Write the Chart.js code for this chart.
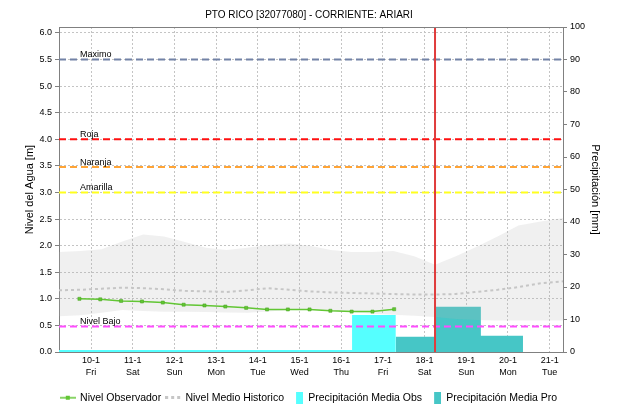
<!DOCTYPE html>
<html>
<head>
<meta charset="utf-8">
<title>PTO RICO [32077080] - CORRIENTE: ARIARI</title>
<script src="https://cdn.jsdelivr.net/npm/chart.js@4.4.1/dist/chart.umd.min.js"></script>
<style>
  html, body { margin: 0; padding: 0; background: #fff; }
  canvas { display: block; }
</style>
</head>
<body>
<canvas id="nivel-chart" width="618" height="407"></canvas>
<script>
// eje x en dias de enero (10 = 10-1 00:00)
const tickDays = [10, 11, 12, 13, 14, 15, 16, 17, 18, 19, 20, 21];
const tickDates = ['10-1', '11-1', '12-1', '13-1', '14-1', '15-1', '16-1', '17-1', '18-1', '19-1', '20-1', '21-1'];
const tickWeekdays = ['Fri', 'Sat', 'Sun', 'Mon', 'Tue', 'Wed', 'Thu', 'Fri', 'Sat', 'Sun', 'Mon', 'Tue'];
const xRange = [9.23, 21.32];
const levelRange = [0, 6.111];
const rainRange = [0, 100];
const nowDay = 18.25;

// Nivel Observador
const obsTimes = [9.72, 10.22, 10.72, 11.22, 11.72, 12.22, 12.72, 13.22, 13.72, 14.22, 14.72, 15.24, 15.74, 16.25, 16.75, 17.27];
const obsLevel = [1.00, 0.99, 0.96, 0.95, 0.93, 0.89, 0.875, 0.855, 0.83, 0.80, 0.80, 0.80, 0.775, 0.76, 0.76, 0.805];

// historico: media y rango
const histTimes = [9.23, 9.75, 10.25, 10.75, 11.25, 11.75, 12.25, 12.75, 13.25, 13.75, 14.25, 14.75, 15.25, 15.75, 16.25, 16.75, 17.25, 17.75, 18.25, 18.75, 19.25, 19.75, 20.25, 20.75, 21.32];
const histMean = [1.16, 1.17, 1.19, 1.21, 1.20, 1.18, 1.15, 1.14, 1.13, 1.16, 1.20, 1.17, 1.14, 1.12, 1.11, 1.10, 1.09, 1.08, 1.08, 1.09, 1.13, 1.17, 1.22, 1.29, 1.33];
const histUpper = [1.88, 1.90, 1.93, 2.08, 2.21, 2.17, 2.07, 1.96, 1.92, 1.96, 2.01, 2.04, 2.00, 1.92, 1.88, 1.88, 1.90, 1.80, 1.64, 1.80, 1.98, 2.17, 2.38, 2.45, 2.52];
const histLower = [0.67, 0.69, 0.74, 0.79, 0.77, 0.755, 0.755, 0.75, 0.745, 0.74, 0.76, 0.79, 0.80, 0.78, 0.75, 0.72, 0.70, 0.68, 0.66, 0.62, 0.60, 0.59, 0.59, 0.59, 0.59];

// precipitacion (inicio de cada intervalo, el ultimo cierra el intervalo)
const rainObsTimes = [9.23, 16.26, 17.31];
const rainObs = [0.6, 11.4, 0];
const rainProTimes = [17.31, 18.26, 19.35, 20.36];
const rainPro = [4.7, 13.9, 5.0, 0];

// umbrales
const thresholdNames = ['Maximo', 'Roja', 'Naranja', 'Amarilla', 'Nivel Bajo'];
const thresholdLevels = [5.5, 4.0, 3.48, 3.0, 0.48];
const thresholdColors = ['#7282a6', '#ff1010', '#ffa436', '#ffff1e', '#ff4cff'];

const green = '#62c634';
const greenDark = '#46a020';
const histGrey = '#c6c6c6';
const cyan = '#55ffff';
const teal = '#46c6c6';

Chart.defaults.font.family = '"Liberation Sans", Arial, sans-serif';
Chart.defaults.color = '#000';

const pts = (xs, ys) => xs.map((x, i) => ({ x: x, y: ys[i] }));

function makeIcon(w, h, draw) {
    const c = document.createElement('canvas');
    c.width = w;
    c.height = h;
    draw(c.getContext('2d'));
    return c;
}

const legendIcons = [
    makeIcon(16, 6, g => {
        g.strokeStyle = green; g.lineWidth = 1.5;
        g.beginPath(); g.moveTo(0, 3); g.lineTo(16, 3); g.stroke();
        g.fillStyle = green; g.fillRect(6, 1, 4, 4);
    }),
    makeIcon(16, 3, g => {
        g.fillStyle = histGrey;
        g.fillRect(0, 0, 3, 3); g.fillRect(6, 0, 3, 3); g.fillRect(12, 0, 3, 3);
    }),
    makeIcon(14, 12, g => { g.fillStyle = cyan; g.fillRect(7, 0, 7, 12); }),
    makeIcon(14, 12, g => { g.fillStyle = teal; g.fillRect(7, 0, 7, 12); })
];

const thresholdSets = thresholdNames.map((name, i) => ({
    label: name,
    data: pts(xRange, [thresholdLevels[i], thresholdLevels[i]]),
    borderColor: thresholdColors[i],
    borderWidth: 2,
    borderDash: [7, 4],
    pointRadius: 0,
    fill: false,
    yAxisID: 'y',
    order: 1
}));

const datasets = [
    {
        label: 'Nivel Observador',
        data: pts(obsTimes, obsLevel),
        borderColor: green,
        borderWidth: 1.5,
        pointStyle: 'rect',
        pointRadius: 2.2,
        pointBackgroundColor: green,
        pointBorderColor: greenDark,
        pointBorderWidth: 0.5,
        fill: false,
        yAxisID: 'y',
        order: 2
    },
    {
        label: 'Nivel Medio Historico',
        data: pts(histTimes, histMean),
        borderColor: histGrey,
        borderWidth: 2,
        borderDash: [3, 3],
        pointRadius: 0,
        fill: false,
        yAxisID: 'y',
        order: 3
    },
    {
        label: 'Precipitación Media Obs',
        data: pts(rainObsTimes, rainObs),
        stepped: 'before',
        borderWidth: 0,
        borderColor: 'rgba(0,0,0,0)',
        backgroundColor: cyan,
        pointRadius: 0,
        fill: 'origin',
        yAxisID: 'y1',
        order: 6
    },
    {
        label: 'Precipitación Media Pro',
        data: pts(rainProTimes, rainPro),
        stepped: 'before',
        borderWidth: 0,
        borderColor: 'rgba(0,0,0,0)',
        backgroundColor: teal,
        pointRadius: 0,
        fill: 'origin',
        yAxisID: 'y1',
        order: 7
    },
    {
        label: 'Rango Historico',
        data: pts(histTimes, histUpper),
        borderWidth: 0,
        borderColor: 'rgba(0,0,0,0)',
        backgroundColor: 'rgba(180,180,180,0.2)',
        pointRadius: 0,
        fill: '+1',
        yAxisID: 'y',
        order: 4
    },
    {
        label: 'Rango Historico min',
        data: pts(histTimes, histLower),
        borderWidth: 0,
        borderColor: 'rgba(0,0,0,0)',
        pointRadius: 0,
        fill: false,
        yAxisID: 'y',
        order: 5
    },
    {
        label: 'Ahora',
        data: pts([nowDay, nowDay], levelRange),
        borderColor: '#e03c3c',
        borderWidth: 2,
        pointRadius: 0,
        fill: false,
        yAxisID: 'y',
        order: 0
    },
    ...thresholdSets
];

const legendOrder = [0, 1, 2, 3];

const umbralesPlugin = {
    id: 'umbrales',
    afterDatasetsDraw(chart) {
        const { ctx, chartArea, scales } = chart;
        ctx.save();
        ctx.strokeStyle = '#808080';
        ctx.lineWidth = 1;
        ctx.beginPath();
        ctx.moveTo(chartArea.left, chartArea.top + 0.5);
        ctx.lineTo(chartArea.right, chartArea.top + 0.5);
        ctx.stroke();
        ctx.font = '9px "Liberation Sans", Arial, sans-serif';
        ctx.fillStyle = '#000';
        ctx.textBaseline = 'alphabetic';
        thresholdNames.forEach((name, i) => {
            const y = scales.y.getPixelForValue(thresholdLevels[i]);
            ctx.fillText(name, chartArea.left + 21, y - 2);
        });
        ctx.restore();
    }
};

new Chart(document.getElementById('nivel-chart'), {
    type: 'line',
    data: { datasets: datasets },
    options: {
        responsive: false,
        animation: false,
        events: [],
        layout: { padding: { left: 0, right: 0, top: 0, bottom: -6 } },
        plugins: {
            title: {
                display: true,
                text: 'PTO RICO [32077080] - CORRIENTE: ARIARI',
                font: { size: 10, weight: 'normal', lineHeight: 1.2 },
                color: '#000',
                padding: { top: 9, bottom: 6 }
            },
            legend: {
                position: 'bottom',
                labels: {
                    usePointStyle: true,
                    pointStyleWidth: 14,
                    padding: 5,
                    color: '#000',
                    font: { size: 10.5 },
                    generateLabels: chart => legendOrder.map((idx, k) => ({
                        text: chart.data.datasets[idx].label,
                        pointStyle: legendIcons[k],
                        fillStyle: 'rgba(0,0,0,0)',
                        strokeStyle: 'rgba(0,0,0,0)',
                        lineWidth: 0,
                        hidden: false,
                        datasetIndex: idx
                    }))
                }
            },
            tooltip: { enabled: false }
        },
        scales: {
            x: {
                type: 'linear',
                min: xRange[0],
                max: xRange[1],
                afterFit(scale) { scale.height = 35.5; },
                ticks: {
                    stepSize: 1,
                    includeBounds: false,
                    autoSkip: false,
                    maxRotation: 0,
                    padding: 3,
                    color: '#000',
                    font: { size: 9, lineHeight: 1.3 },
                    callback(value) {
                        const i = tickDays.indexOf(Math.round(value));
                        return i < 0 ? '' : [tickDates[i], tickWeekdays[i]];
                    }
                },
                grid: { color: '#c4c4c4', drawTicks: false },
                border: { color: '#808080', dash: [2, 2] }
            },
            y: {
                position: 'left',
                min: levelRange[0],
                max: levelRange[1],
                afterFit(scale) { scale.width = 59; },
                ticks: {
                    stepSize: 0.5,
                    includeBounds: false,
                    padding: 3,
                    color: '#000',
                    font: { size: 9 },
                    callback: v => v.toFixed(1)
                },
                grid: { color: '#c4c4c4', tickLength: 4, tickColor: '#808080', tickBorderDash: [] },
                border: { color: '#808080', dash: [2, 2] },
                title: {
                    display: true,
                    text: 'Nivel del Agua [m]',
                    color: '#000',
                    font: { size: 11 },
                    padding: { top: 23, bottom: 0 }
                }
            },
            y1: {
                position: 'right',
                min: rainRange[0],
                max: rainRange[1],
                afterFit(scale) { scale.width = 55; },
                ticks: { stepSize: 10, padding: 3, color: '#000', font: { size: 9 } },
                grid: { drawOnChartArea: false, tickLength: 4, color: '#808080' },
                border: { color: '#808080' },
                title: {
                    display: true,
                    text: 'Precipitación [mm]',
                    color: '#000',
                    font: { size: 11 },
                    padding: { top: 16, bottom: 0 }
                }
            }
        }
    },
    plugins: [umbralesPlugin]
});
</script>
</body>
</html>
